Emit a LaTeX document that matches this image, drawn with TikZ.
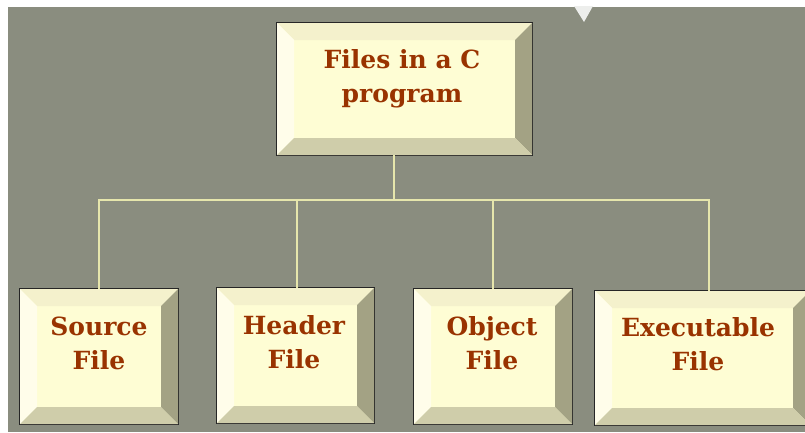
\documentclass[tikz,border=0pt]{standalone}
\usepackage{fontspec}
\setmainfont{DejaVu Serif}
\usetikzlibrary{calc}

\definecolor{ground}{HTML}{8A8D7F}
\definecolor{face}{HTML}{FEFDD4}
\definecolor{bevtop}{HTML}{F4F1CC}
\definecolor{bevleft}{HTML}{FFFDEA}
\definecolor{bevright}{HTML}{A3A284}
\definecolor{bevbottom}{HTML}{CFCDAA}
\definecolor{ink}{HTML}{993300}
\definecolor{wire}{HTML}{E6E6AC}

\newcommand{\bev}{17pt}

\tikzset{
  bevelbox/.style={
    rectangle, inner sep=0pt, fill=face,
    minimum width=#1,
    path picture={
      \coordinate (bbnw) at (path picture bounding box.north west);
      \coordinate (bbne) at (path picture bounding box.north east);
      \coordinate (bbsw) at (path picture bounding box.south west);
      \coordinate (bbse) at (path picture bounding box.south east);
      \fill[bevtop] (bbnw) -- (bbne) -- ($(bbne)+(-\bev,-\bev)$) -- ($(bbnw)+(\bev,-\bev)$) -- cycle;
      \fill[bevleft] (bbnw) -- ($(bbnw)+(\bev,-\bev)$) -- ($(bbsw)+(\bev,\bev)$) -- (bbsw) -- cycle;
      \fill[bevright] (bbne) -- ($(bbne)+(-\bev,-\bev)$) -- ($(bbse)+(-\bev,\bev)$) -- (bbse) -- cycle;
      \fill[bevbottom] (bbsw) -- ($(bbsw)+(\bev,\bev)$) -- ($(bbse)+(-\bev,\bev)$) -- (bbse) -- cycle;
    },
    append after command={
      \pgfextra{\draw[black!85, line width=0.7pt]
        (\tikzlastnode.north west) rectangle (\tikzlastnode.south east);}
    }
  },
  boxlabel/.style={
    text=ink, align=center, font=\bfseries\fontsize{25}{34}\selectfont,
    inner sep=0pt
  },
  conn/.style={draw=wire, line width=1.3pt}
}

\begin{document}
\begin{tikzpicture}[x=1pt, y=-1pt]
  % canvas and its white edges
  \fill[white] (0,0) rectangle (805,432);
  \fill[ground] (8,7) rectangle (805,432);
  \fill[white!85!ground] (574,6) -- (593,6) -- (584,22) -- cycle;
  \useasboundingbox (0,0) rectangle (805,432);

  % boxes
  \node[bevelbox=255pt, minimum height=132pt] (top) at (404.5,89) {};
  \node[bevelbox=158pt, minimum height=135pt] (src) at (99,356.5) {};
  \node[bevelbox=157pt, minimum height=135pt] (hdr) at (295.5,355.5) {};
  \node[bevelbox=158pt, minimum height=135pt] (obj) at (493,356.5) {};
  \node[bevelbox=215pt, minimum height=134pt] (exe) at (702.5,358) {};

  % labels
  \node[boxlabel] (toplbl) at (402,79) {Files in a C\\program};
  \node[boxlabel] (srclbl) at (99,343) {Source\\File};
  \node[boxlabel] (hdrlbl) at (294,342) {Header\\File};
  \node[boxlabel] (objlbl) at (492,343) {Object\\File};
  \node[boxlabel] (exelbl) at (698,344) {Executable\\File};

  % connector tree
  \coordinate (hub) at (394,200);
  \coordinate (hdrin) at ([xshift=1.5pt]hdr.north);
  \coordinate (exein) at ([xshift=6.5pt]exe.north);
  \draw[conn] (top.south -| hub) -- (hub);
  \draw[conn] (src.north) |- (hub) -| (exein);
  \draw[conn] (hdrin) -- (hdrin |- hub);
  \draw[conn] (obj.north) -- (obj.north |- hub);
\end{tikzpicture}
\end{document}
